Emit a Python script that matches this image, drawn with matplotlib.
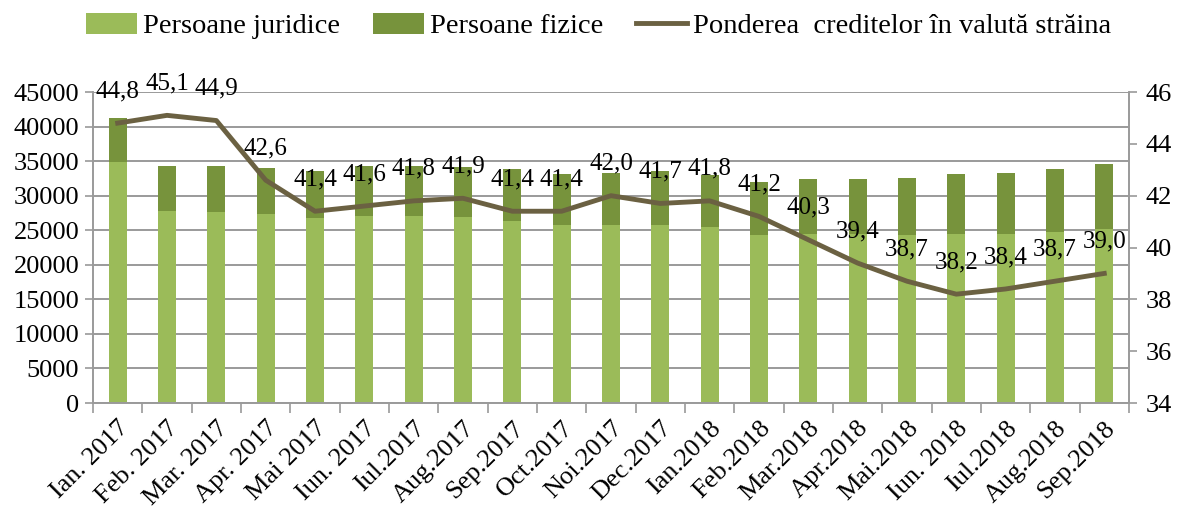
import numpy as np
import matplotlib.pyplot as plt
from matplotlib.ticker import FixedLocator

# data
months = ["Ian. 2017", "Feb. 2017", "Mar. 2017", "Apr. 2017", "Mai 2017",
          "Iun. 2017", "Iul.2017", "Aug.2017", "Sep.2017", "Oct.2017",
          "Noi.2017", "Dec.2017", "Ian.2018", "Feb.2018", "Mar.2018",
          "Apr.2018", "Mai.2018", "Iun. 2018", "Iul.2018", "Aug.2018",
          "Sep.2018"]
juridice = [34900, 27800, 27600, 27400, 26800, 27050, 27050, 26900, 26300,
            25750, 25750, 25750, 25400, 24300, 24500, 24500, 24300, 24500,
            24500, 24700, 25200]
totals = [41250, 34250, 34250, 34000, 33550, 34250, 34250, 34100, 33900,
          33100, 33300, 33550, 32950, 32000, 32400, 32400, 32550, 33100,
          33300, 33850, 34600]
fizice = [t - j for t, j in zip(totals, juridice)]
pondere = [44.8, 45.1, 44.9, 42.6, 41.4, 41.6, 41.8, 41.9, 41.4, 41.4, 42.0,
           41.7, 41.8, 41.2, 40.3, 39.4, 38.7, 38.2, 38.4, 38.7, 39.0]

plt.rcParams["font.family"] = ["Liberation Serif", "DejaVu Serif"]
plt.rcParams["font.size"] = 19

C_JUR = "#9BBB59"
C_FIZ = "#77933C"
C_LINE = "#6B6142"
C_GRID = "#9A9A9A"

fig = plt.figure(figsize=(11.85, 5.17), dpi=100)
ax = fig.add_axes([0.0785, 0.2205, 0.8742, 0.6015])
ax2 = ax.twinx()

x = np.arange(len(months))
b1 = ax.bar(x, juridice, width=0.36, color=C_JUR, zorder=2,
            label="Persoane juridice")
b2 = ax.bar(x, fizice, width=0.36, bottom=juridice, color=C_FIZ, zorder=2,
            label="Persoane fizice")

ax.set_xlim(-0.5, len(months) - 0.5)
ax.set_ylim(0, 45000)
ax.set_yticks(np.arange(0, 45001, 5000))
ax.yaxis.grid(True, color=C_GRID, linewidth=1.4, zorder=0)
ax.set_axisbelow(True)

ax.set_xticks(x)
ax.set_xticklabels(months, rotation=45, ha="right", rotation_mode="anchor")
ax.tick_params(axis="x", which="major", length=0, pad=10)
ax.xaxis.set_minor_locator(FixedLocator(np.arange(-0.5, len(months), 1)))
ax.tick_params(axis="x", which="minor", length=7, color=C_GRID, width=1.2)
ax.tick_params(axis="y", length=6, color=C_GRID, width=1.2, pad=4)

ax.spines["top"].set_visible(False)
ax2.spines["top"].set_visible(False)
for a in (ax, ax2):
    for side in ["left", "right", "bottom"]:
        a.spines[side].set_color(C_GRID)
        a.spines[side].set_linewidth(1.2)

line, = ax2.plot(x, pondere, color=C_LINE, linewidth=3.5, zorder=3,
                 label="Ponderea  creditelor în valută străina")
ax2.set_ylim(34, 46)
ax2.set_yticks(np.arange(34, 47, 2))
ax2.tick_params(axis="y", length=6, color=C_GRID, width=1.2, pad=6)

for xi, v in zip(x, pondere):
    ax2.annotate(f"{v:.1f}".replace(".", ","), (xi, v), xytext=(0, 23),
                 textcoords="offset points", ha="center", va="center",
                 fontsize=18)

fig.legend(handles=[b1, b2, line], loc="upper center",
           bbox_to_anchor=(0.505, 1.025), ncol=3, frameon=False,
           handlelength=1.8, handleheight=0.8, columnspacing=1.15,
           handletextpad=0.2, fontsize=20.5)

fig.savefig("out.png", dpi=100)
